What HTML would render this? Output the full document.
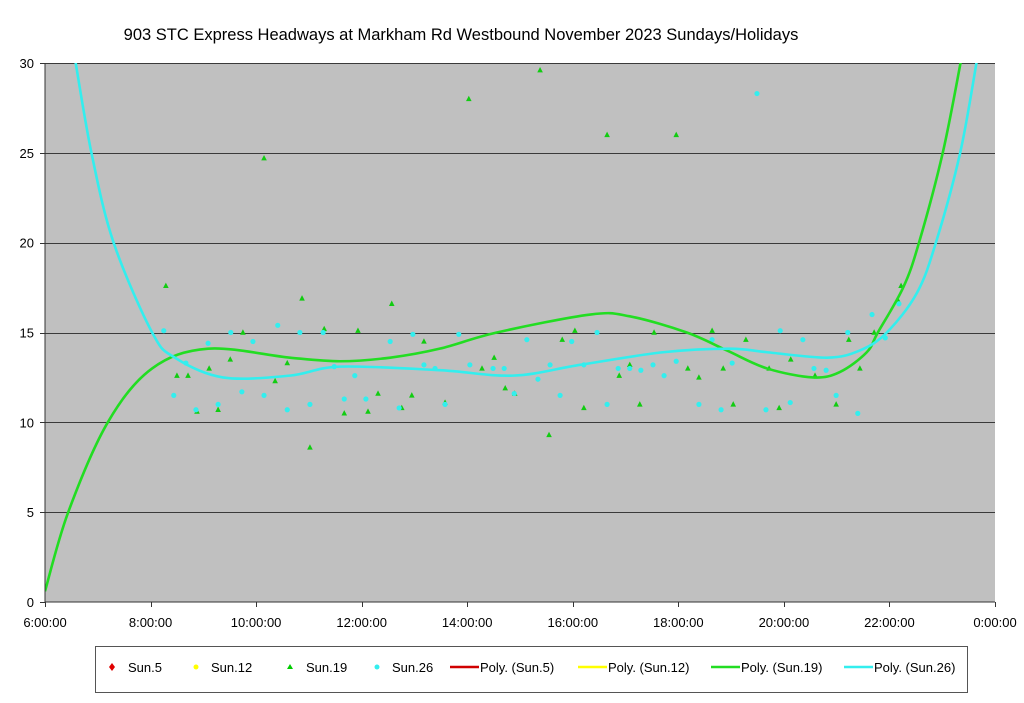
<!DOCTYPE html>
<html><head><meta charset="utf-8"><style>
body{margin:0;background:#fff;font-family:"Liberation Sans",Arial,sans-serif;}
svg{display:block}
</style></head><body>
<svg id="chart" width="1024" height="703" xmlns="http://www.w3.org/2000/svg">
<rect x="0" y="0" width="1024" height="703" fill="#fff"/>
<text x="461" y="40" font-size="16.5" text-anchor="middle" fill="#000">903 STC Express Headways at Markham Rd Westbound November 2023  Sundays/Holidays</text>
<rect x="45" y="63" width="950" height="539" fill="#c0c0c0"/>
<g id="grid"></g>
<g id="marks"></g>
<line x1="45" y1="63" x2="45" y2="602" stroke="#333" stroke-width="1"/>
<line x1="45" y1="602" x2="995" y2="602" stroke="#333" stroke-width="1"/>
<g id="ticks"></g>
<g>
<rect x="95.5" y="646.5" width="872" height="46" fill="#fff" stroke="#555"/>
<path d="M112 663 L115 667 L112 671 L109 667 Z" fill="#e00000"/>
<text x="128" y="672" font-size="13">Sun.5</text>
<circle cx="196" cy="667" r="2.5" fill="#ffff00"/>
<text x="211" y="672" font-size="13">Sun.12</text>
<path d="M290 664 L293 669 L287 669 Z" fill="#00cc00"/>
<text x="306" y="672" font-size="13">Sun.19</text>
<circle cx="377" cy="667" r="2.5" fill="#33eeee"/>
<text x="392" y="672" font-size="13">Sun.26</text>
<line x1="450" y1="667" x2="479" y2="667" stroke="#d00000" stroke-width="2.5"/>
<text x="480" y="672" font-size="13">Poly. (Sun.5)</text>
<line x1="578" y1="667" x2="607" y2="667" stroke="#ffff00" stroke-width="2.5"/>
<text x="608" y="672" font-size="13">Poly. (Sun.12)</text>
<line x1="711" y1="667" x2="740" y2="667" stroke="#22dd22" stroke-width="2.5"/>
<text x="741" y="672" font-size="13">Poly. (Sun.19)</text>
<line x1="844" y1="667" x2="873" y2="667" stroke="#33eeee" stroke-width="2.5"/>
<text x="874" y="672" font-size="13">Poly. (Sun.26)</text>
</g>
</svg>
<script>
const yTicks=[0,5,10,15,20,25,30];
const xTickHours=[6,8,10,12,14,16,18,20,22,24];
const xTickLabels=["6:00:00","8:00:00","10:00:00","12:00:00","14:00:00","16:00:00","18:00:00","20:00:00","22:00:00","0:00:00"];
const sun19Hours=[8.29,8.50,8.71,8.88,9.11,9.28,9.51,9.75,10.15,10.36,10.59,10.87,11.02,11.29,11.67,11.93,12.12,12.31,12.57,12.76,12.95,13.18,13.58,14.03,14.28,14.51,14.72,14.90,15.38,15.55,15.80,16.04,16.21,16.65,16.88,17.08,17.27,17.54,17.96,18.18,18.39,18.64,18.85,19.04,19.28,19.72,19.91,20.13,20.59,20.99,21.23,21.44,21.71,22.16,22.22];
const sun19Values=[17.6,12.6,12.6,10.6,13.0,10.7,13.5,15.0,24.7,12.3,13.3,16.9,8.6,15.2,10.5,15.1,10.6,11.6,16.6,10.8,11.5,14.5,11.1,28.0,13.0,13.6,11.9,11.6,29.6,9.3,14.6,15.1,10.8,26.0,12.6,13.2,11.0,15.0,26.0,13.0,12.5,15.1,13.0,11.0,14.6,13.0,10.8,13.5,12.6,11.0,14.6,13.0,15.0,16.8,17.6];
const sun26Hours=[8.25,8.44,8.67,8.86,9.09,9.28,9.52,9.73,9.94,10.15,10.41,10.59,10.83,11.02,11.27,11.48,11.67,11.87,12.08,12.54,12.71,12.97,13.18,13.39,13.58,13.84,14.05,14.49,14.70,14.89,15.13,15.34,15.57,15.76,15.98,16.21,16.46,16.65,16.86,17.08,17.29,17.52,17.73,17.96,18.39,18.64,18.81,19.02,19.49,19.66,19.93,20.12,20.36,20.57,20.80,20.99,21.21,21.40,21.67,21.92,22.18];
const sun26Values=[15.1,11.5,13.3,10.7,14.4,11.0,15.0,11.7,14.5,11.5,15.4,10.7,15.0,11.0,15.0,13.1,11.3,12.6,11.3,14.5,10.8,14.9,13.2,13.0,11.0,14.9,13.2,13.0,13.0,11.6,14.6,12.4,13.2,11.5,14.5,13.2,15.0,11.0,13.0,13.0,12.9,13.2,12.6,13.4,11.0,14.6,10.7,13.3,28.3,10.7,15.1,11.1,14.6,13.0,12.9,11.5,15.0,10.5,16.0,14.7,16.6];
const poly19Hours=[6.0,6.44,7.19,8.03,9.09,10.64,11.59,12.54,13.48,14.56,16.33,17.08,18.16,18.92,19.68,20.55,21.06,21.57,21.78,22.26,22.56,23.01,23.36];
const poly19Values=[0.6,5.0,10.0,13.0,14.1,13.6,13.4,13.6,14.1,15.0,16.0,15.9,15.0,14.0,13.0,12.5,12.8,13.9,15.0,17.5,20.0,25.0,30.2];
const poly26Hours=[6.57,6.88,7.30,8.03,8.46,9.37,10.64,11.59,13.48,14.87,16.14,17.71,18.98,19.68,20.82,21.44,21.95,22.52,22.88,23.34,23.66];
const poly26Values=[30.2,25,20,15,13.6,12.5,12.6,13.1,12.9,12.6,13.2,13.9,14.1,13.9,13.6,14.0,15.0,17.2,20,25,30.2];

const NS="http://www.w3.org/2000/svg";
const X0=45,X1=995,Y0=602,Y1=63;
function xs(h){return X0+(h-6)/18*(X1-X0);}
function ys(v){return Y0-v/30*(Y0-Y1);}
function mk(tag,attrs,parent){const e=document.createElementNS(NS,tag);for(const k in attrs)e.setAttribute(k,attrs[k]);parent.appendChild(e);return e;}
const grid=document.getElementById('grid'),marks=document.getElementById('marks'),ticks=document.getElementById('ticks');
yTicks.forEach(v=>{
  const y=Math.round(ys(v))+0.5;
  if(v>0){const l=mk('line',{x1:X0,x2:X1,y1:y,y2:y,stroke:'#3a3a3a','stroke-width':1},grid);
  
  }
  const t=mk('line',{x1:X0-5,x2:X0,y1:y,y2:y,stroke:'#333'},ticks);
  
  
  const tx=mk('text',{x:X0-11,y:ys(v)+5,'font-size':13,'text-anchor':'end'},ticks);
  tx.textContent=v;
  
  
});
xTickHours.forEach((h,i)=>{
  const x=Math.round(xs(h))+0.5;
  const t=mk('line',{x1:x,x2:x,y1:Y0,y2:Y0+5,stroke:'#333'},ticks);
  
  
  const tx=mk('text',{x:xs(h),y:627,'font-size':13,'text-anchor':'middle'},ticks);
  tx.textContent=xTickLabels[i];
  
  
});
const clip=mk('clipPath',{id:'pc'},document.getElementById('chart'));
mk('rect',{x:X0,y:Y1,width:X1-X0,height:Y0-Y1},clip);
function curve(hs,vs,color,name){
  const p=hs.map((h,i)=>[xs(h),ys(vs[i])]);
  let d='M'+p[0][0]+' '+p[0][1];
  for(let i=0;i<p.length-1;i++){
    const a=p[Math.max(0,i-1)],b=p[i],c=p[i+1],e=p[Math.min(p.length-1,i+2)];
    const c1=[b[0]+(c[0]-a[0])/6,b[1]+(c[1]-a[1])/6],c2=[c[0]-(e[0]-b[0])/6,c[1]-(e[1]-b[1])/6];
    d+=' C'+c1[0]+' '+c1[1]+' '+c2[0]+' '+c2[1]+' '+c[0]+' '+c[1];
  }
  const el=mk('path',{d:d,fill:'none',stroke:color,'stroke-width':2.6,'clip-path':'url(#pc)'},marks);
  
  
}
sun19Hours.forEach((h,i)=>{
  const x=xs(h),y=ys(sun19Values[i]);
  const el=mk('path',{d:`M${x} ${y-3.2}L${x+2.8} ${y+2.2}L${x-2.8} ${y+2.2}Z`,fill:'#11cc11'},marks);
  
  
});
sun26Hours.forEach((h,i)=>{
  const el=mk('circle',{cx:xs(h),cy:ys(sun26Values[i]),r:2.6,fill:'#33eeee'},marks);
  
  
});
curve(poly19Hours,poly19Values,'#22dd22','trendline-poly-sun19');
curve(poly26Hours,poly26Values,'#33eeee','trendline-poly-sun26');
</script>
</body></html>
